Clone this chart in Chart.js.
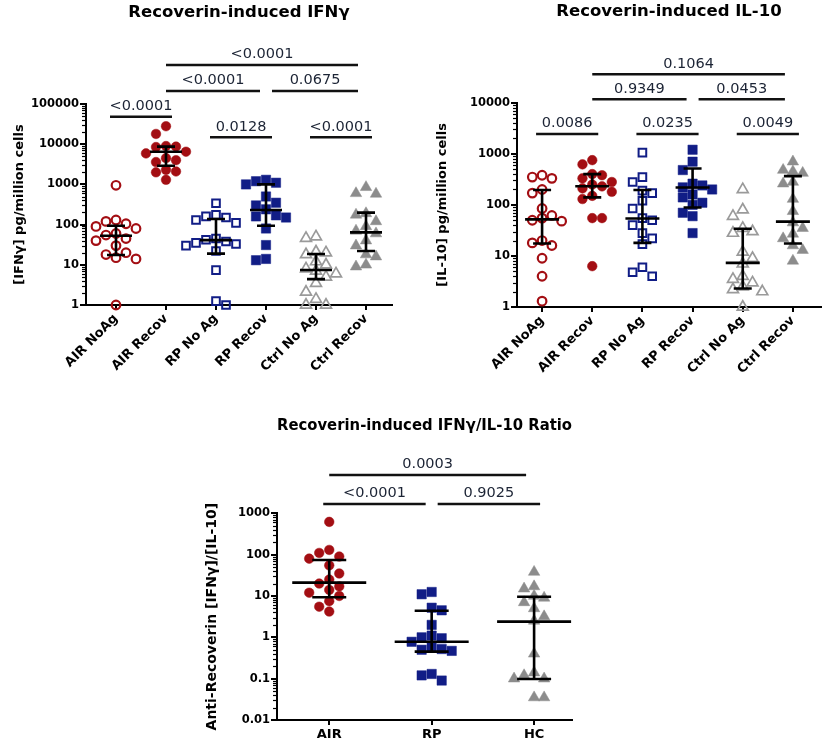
<!DOCTYPE html>
<html>
<head>
<meta charset="utf-8">
<script src="https://cdn.jsdelivr.net/npm/chart.js@4.4.1/dist/chart.umd.min.js"></script>
<style>
html,body{margin:0;padding:0;background:#fff;}
body{width:829px;height:744px;position:relative;overflow:hidden;}
canvas{position:absolute;}
</style>
</head>
<body>
<canvas id="c1" width="420" height="400" style="left:0px;top:0px"></canvas>
<canvas id="c2" width="409" height="400" style="left:420px;top:0px"></canvas>
<canvas id="c3" width="829" height="344" style="left:0px;top:400px"></canvas>
<script>
// ---------- categories & tick labels ----------
const stimCategories = ['AIR NoAg', 'AIR Recov', 'RP No Ag', 'RP Recov', 'Ctrl No Ag', 'Ctrl Recov'];
const ratioCategories = ['AIR', 'RP', 'HC'];
const ifnTicks = [1, 10, 100, 1000, 10000, 100000];
const il10Ticks = [1, 10, 100, 1000, 10000];
const ratioTicks = [0.01, 0.1, 1, 10, 100, 1000];

// ---------- Recoverin-induced IFNγ (pg/million cells) ----------
const ifnAirNoAg  = [950, 130, 120, 105, 90, 80, 60, 55, 45, 40, 30, 20, 18, 15, 14, 1];
const ifnAirRecov = [28000, 18000, 9000, 8700, 8500, 6500, 5900, 4500, 4000, 3600, 2300, 2100, 2000, 1300];
const ifnRpNoAg   = [340, 175, 160, 150, 130, 110, 45, 42, 38, 35, 33, 30, 22, 7.4, 1.25, 1];
const ifnRpRecov  = [1300, 1200, 1100, 1000, 500, 350, 300, 240, 170, 160, 150, 80, 31, 14, 13];
const ifnCtrlNoAg = [50, 46, 21, 20, 18, 12, 10, 8, 7, 6, 5, 3.5, 2.1, 1.4, 1, 1];
const ifnCtrlRecov= [850, 600, 580, 190, 175, 120, 90, 70, 60, 40, 30, 18, 16, 10, 9];
const ifnMedian = [53, 6500, 41, 230, 7.4, 64];
const ifnQ1     = [17.5, 2900, 19, 94, 4.4, 22];
const ifnQ3     = [94, 8700, 138, 1000, 18.6, 198];
const ifnPairs   = [[0, 1], [2, 3], [4, 5], [1, 3], [3, 5], [1, 5]];
const ifnPValues = ['<0.0001', '0.0128', '<0.0001', '<0.0001', '0.0675', '<0.0001'];

// ---------- Recoverin-induced IL-10 (pg/million cells) ----------
const il10AirNoAg  = [380, 350, 330, 200, 170, 85, 62, 55, 50, 48, 20, 18, 16, 9, 4, 1.3];
const il10AirRecov = [750, 620, 400, 380, 330, 280, 250, 230, 210, 180, 150, 130, 55, 55, 6.3];
const il10RpNoAg   = [1050, 350, 280, 190, 170, 120, 85, 55, 50, 40, 28, 22, 17, 6, 4.8, 4];
const il10RpRecov  = [1200, 700, 480, 260, 240, 220, 200, 160, 140, 110, 100, 70, 60, 28];
const il10CtrlNoAg = [200, 80, 60, 35, 30, 28, 12, 9, 7, 4, 3.5, 3, 2.5, 2.2, 2, 1];
const il10CtrlRecov= [700, 480, 450, 420, 280, 260, 130, 75, 45, 35, 27, 22, 16, 13, 8];
const il10Median = [52, 232, 54, 218, 7.3, 47];
const il10Q1     = [17.5, 140, 18, 89, 2.3, 17.5];
const il10Q3     = [195, 400, 195, 515, 34, 365];
const il10Pairs   = [[0, 1], [2, 3], [4, 5], [1, 3], [3, 5], [1, 5]];
const il10PValues = ['0.0086', '0.0235', '0.0049', '0.9349', '0.0453', '0.1064'];

// ---------- IFNγ / IL-10 ratio ----------
const ratioAir = [620, 130, 110, 90, 80, 55, 35, 25, 20, 17, 14, 12, 10, 7.5, 5.5, 4.2];
const ratioRp  = [12.5, 11, 5.2, 4.5, 2, 1.1, 1, 0.95, 0.78, 0.6, 0.52, 0.5, 0.47, 0.13, 0.12, 0.09];
const ratioHc  = [38, 17, 15, 10, 9, 7, 5, 3.2, 2.5, 0.4, 0.14, 0.12, 0.1, 0.1, 0.035, 0.035];
const ratioMedian = [21, 0.78, 2.4];
const ratioQ1     = [9.3, 0.45, 0.098];
const ratioQ3     = [74, 4.4, 9.6];
const ratioPairs   = [[0, 1], [1, 2], [0, 2]];
const ratioPValues = ['<0.0001', '0.9025', '0.0003'];

// ---------- styles / layout (not data) ----------
const FONT = 'DejaVu Sans';
const RED = '#A30E13', NAVY = '#111D86', GRAY = '#8C8C8C', GRAY_OPEN = '#9A9A9A';
const mk = {
  redOpen:   {pointStyle: 'circle',   pointRadius: 4.3, pointBorderWidth: 2.2, pointBorderColor: RED, pointBackgroundColor: 'rgba(255,255,255,0)'},
  redFill:   {pointStyle: 'circle',   pointRadius: 4.8, pointBorderWidth: 0.5, pointBorderColor: RED, pointBackgroundColor: RED},
  navyOpen:  {pointStyle: 'rect',     pointRadius: 5.4, pointBorderWidth: 2.0, pointBorderColor: NAVY, pointBackgroundColor: 'rgba(255,255,255,0)'},
  navyFill:  {pointStyle: 'rect',     pointRadius: 6.6, pointBorderWidth: 0.5, pointBorderColor: NAVY, pointBackgroundColor: NAVY},
  grayOpen:  {pointStyle: 'triangle', pointRadius: 6.3, pointBorderWidth: 1.7, pointBorderColor: GRAY_OPEN, pointBackgroundColor: 'rgba(255,255,255,0)'},
  grayFill:  {pointStyle: 'triangle', pointRadius: 6.6, pointBorderWidth: 0.5, pointBorderColor: GRAY, pointBackgroundColor: GRAY}
};
const ifnBracketOffsets  = [12.7, 33.3, 33.3, -13, -13, -39];
const il10BracketOffsets = [31.3, 31.3, 31.3, -3.4, -3.4, -28.4];
const ratioBracketOffsets = [-9.3, -9.3, -38.3];

function swarmOffsets(values, pxPerDecade, minDist, step) {
  const idx = values.map((v, i) => i).sort((a, b) => values[b] - values[a]);
  const placed = [];
  const off = new Array(values.length).fill(0);
  let flip = -1;
  for (const i of idx) {
    const y = Math.log10(values[i]) * pxPerDecade;
    let chosen = 0;
    for (let k = 0; k < 40; k++) {
      const n = Math.ceil(k / 2);
      const sign = k === 0 ? 0 : (k % 2 ? flip : -flip);
      const dx = sign * n * step;
      if (placed.every(p => Math.hypot(p.x - dx, p.y - y) >= minDist)) { chosen = dx; break; }
    }
    if (chosen !== 0) flip = -Math.sign(chosen);
    placed.push({x: chosen, y: y});
    off[i] = chosen;
  }
  return off;
}

function overlayPlugin(spec) {
  return {
    id: 'overlay_' + spec.id,
    afterDatasetsDraw(chart) {
      const ctx = chart.ctx, xs = chart.scales.x, ys = chart.scales.y, area = chart.chartArea;
      ctx.save();
      // minor log ticks
      ctx.strokeStyle = '#000';
      ctx.lineWidth = 1.2;
      const lo = Math.floor(Math.log10(ys.min)), hi = Math.ceil(Math.log10(ys.max));
      for (let e = lo; e < hi; e++) {
        for (let m = 2; m <= 9; m++) {
          const v = m * Math.pow(10, e);
          if (v <= ys.min || v >= ys.max) continue;
          const y = Math.round(ys.getPixelForValue(v)) + 0.5;
          ctx.beginPath(); ctx.moveTo(area.left - 4, y); ctx.lineTo(area.left, y); ctx.stroke();
        }
      }
      // median + interquartile range
      ctx.lineWidth = 2.6;
      ctx.strokeStyle = '#000';
      spec.median.forEach((m, i) => {
        const x = xs.getPixelForValue(i);
        const ym = ys.getPixelForValue(m), y1 = ys.getPixelForValue(spec.q1[i]), y3 = ys.getPixelForValue(spec.q3[i]);
        ctx.beginPath();
        ctx.moveTo(x - spec.medHalf, ym); ctx.lineTo(x + spec.medHalf, ym);
        ctx.moveTo(x, y1); ctx.lineTo(x, y3);
        ctx.moveTo(x - spec.capHalf, y1); ctx.lineTo(x + spec.capHalf, y1);
        ctx.moveTo(x - spec.capHalf, y3); ctx.lineTo(x + spec.capHalf, y3);
        ctx.stroke();
      });
      // significance brackets
      ctx.font = '14.5px "' + FONT + '"';
      ctx.textAlign = 'center';
      ctx.textBaseline = 'middle';
      spec.pairs.forEach((pr, j) => {
        const [a, b] = pr;
        const off = spec.offsets[j];
        const sharedLeft = spec.pairs.some((q, k) => k !== j && spec.offsets[k] === off && q[1] === a);
        const sharedRight = spec.pairs.some((q, k) => k !== j && spec.offsets[k] === off && q[0] === b);
        const span = b - a;
        let x1 = xs.getPixelForValue(a), x2 = xs.getPixelForValue(b);
        if (sharedLeft) x1 += 6; else x1 += (span > 1 ? 0 : -6);
        if (sharedRight) x2 -= 6; else x2 += (span > 1 ? -8 : 6);
        const y = area.top + off;
        ctx.strokeStyle = '#111';
        ctx.lineWidth = 2.6;
        ctx.beginPath(); ctx.moveTo(x1, y); ctx.lineTo(x2, y); ctx.stroke();
        ctx.fillStyle = '#1c2435';
        ctx.fillText(spec.labels[j], (x1 + x2) / 2, y - 10.5);
      });
      ctx.restore();
    }
  };
}

function makeChart(spec) {
  const datasets = spec.series.map((vals, i) => {
    const off = swarmOffsets(vals, spec.pxPerDecade, 9.3, 10);
    return Object.assign({
      data: vals.map((v, j) => ({x: i + off[j] / spec.pxPerCat, y: v})),
      showLine: false,
      clip: false
    }, spec.markers[i]);
  });
  const tickFont = {family: FONT, size: 11.5, weight: 'bold'};
  return new Chart(document.getElementById(spec.id), {
    type: 'scatter',
    data: {datasets: datasets},
    options: {
      responsive: false,
      animation: false,
      events: [],
      layout: {padding: {left: 0, right: spec.padRight, top: 0, bottom: 0}},
      plugins: {
        legend: {display: false},
        tooltip: {enabled: false},
        title: {
          display: true, text: spec.title, fullSize: false, color: '#000',
          font: {family: FONT, size: 16.5, weight: 'bold', lineHeight: '20px'},
          padding: {top: spec.titleTop, bottom: spec.titleBottom}
        }
      },
      scales: {
        x: {
          type: 'linear', min: spec.xMin, max: spec.xMax,
          afterBuildTicks: s => { s.ticks = spec.categories.map((c, i) => ({value: i})); },
          afterFit: s => { s.height = spec.xHeight; },
          ticks: {
            autoSkip: false, minRotation: spec.rotation, maxRotation: spec.rotation,
            callback: v => spec.categories[v], color: '#000', padding: spec.rotation ? 1 : 2,
            font: {family: FONT, size: 13, weight: 'bold'}
          },
          grid: {display: true, drawOnChartArea: false, drawTicks: true, tickLength: 5, color: '#000', lineWidth: 2},
          border: {display: true, color: '#000', width: 2}
        },
        y: {
          type: 'logarithmic', min: spec.ticks[0], max: spec.ticks[spec.ticks.length - 1],
          afterBuildTicks: s => { s.ticks = spec.ticks.map(v => ({value: v})); },
          afterFit: s => { s.width = spec.yWidth; },
          ticks: {autoSkip: false, callback: v => String(v), color: '#000', padding: 1, font: tickFont},
          grid: {display: true, drawOnChartArea: false, drawTicks: true, tickLength: 6, color: '#000', lineWidth: 2},
          border: {display: true, color: '#000', width: 2},
          title: {
            display: true, text: spec.yTitle, color: '#000',
            font: {family: FONT, size: spec.yTitleSize, weight: 'bold'},
            padding: {top: spec.yTitlePad, bottom: 0}
          }
        }
      }
    },
    plugins: [overlayPlugin(spec)]
  });
}

makeChart({
  id: 'c1', title: 'Recoverin-induced IFNγ', yTitle: '[IFNγ] pg/million cells', yTitleSize: 13, yTitlePad: 11.5,
  categories: stimCategories, ticks: ifnTicks,
  series: [ifnAirNoAg, ifnAirRecov, ifnRpNoAg, ifnRpRecov, ifnCtrlNoAg, ifnCtrlRecov],
  markers: [mk.redOpen, mk.redFill, mk.navyOpen, mk.navyFill, mk.grayOpen, mk.grayFill],
  median: ifnMedian, q1: ifnQ1, q3: ifnQ3,
  pairs: ifnPairs, labels: ifnPValues, offsets: ifnBracketOffsets,
  xMin: -0.6, xMax: 5.52, rotation: 45,
  yWidth: 86, xHeight: 95, padRight: 28, titleTop: 2.5, titleBottom: 81.5,
  pxPerCat: 50, pxPerDecade: 40.2, medHalf: 16, capHalf: 9
});

makeChart({
  id: 'c2', title: 'Recoverin-induced IL-10', yTitle: '[IL-10] pg/million cells', yTitleSize: 13, yTitlePad: 14.5,
  categories: stimCategories, ticks: il10Ticks,
  series: [il10AirNoAg, il10AirRecov, il10RpNoAg, il10RpRecov, il10CtrlNoAg, il10CtrlRecov],
  markers: [mk.redOpen, mk.redFill, mk.navyOpen, mk.navyFill, mk.grayOpen, mk.grayFill],
  median: il10Median, q1: il10Q1, q3: il10Q3,
  pairs: il10Pairs, labels: il10PValues, offsets: il10BracketOffsets,
  xMin: -0.5, xMax: 5.56, rotation: 45,
  yWidth: 97, xHeight: 93, padRight: 1, titleTop: 1.5, titleBottom: 81.2,
  pxPerCat: 51.3, pxPerDecade: 51, medHalf: 17, capHalf: 9
});

makeChart({
  id: 'c3', title: 'Recoverin-induced IFNγ/IL-10 Ratio', yTitle: 'Anti-Recoverin [IFNγ]/[IL-10]', yTitleSize: 14, yTitlePad: 204,
  categories: ratioCategories, ticks: ratioTicks,
  series: [ratioAir, ratioRp, ratioHc],
  markers: [mk.redFill, mk.navyFill, mk.grayFill],
  median: ratioMedian, q1: ratioQ1, q3: ratioQ3,
  pairs: ratioPairs, labels: ratioPValues, offsets: ratioBracketOffsets,
  xMin: -0.51, xMax: 2.37, rotation: 0,
  yWidth: 277, xHeight: 24, padRight: 257, titleTop: 16, titleBottom: 77.3,
  pxPerCat: 102.2, pxPerDecade: 41.3, medHalf: 37, capHalf: 17
});
</script>
</body>
</html>
